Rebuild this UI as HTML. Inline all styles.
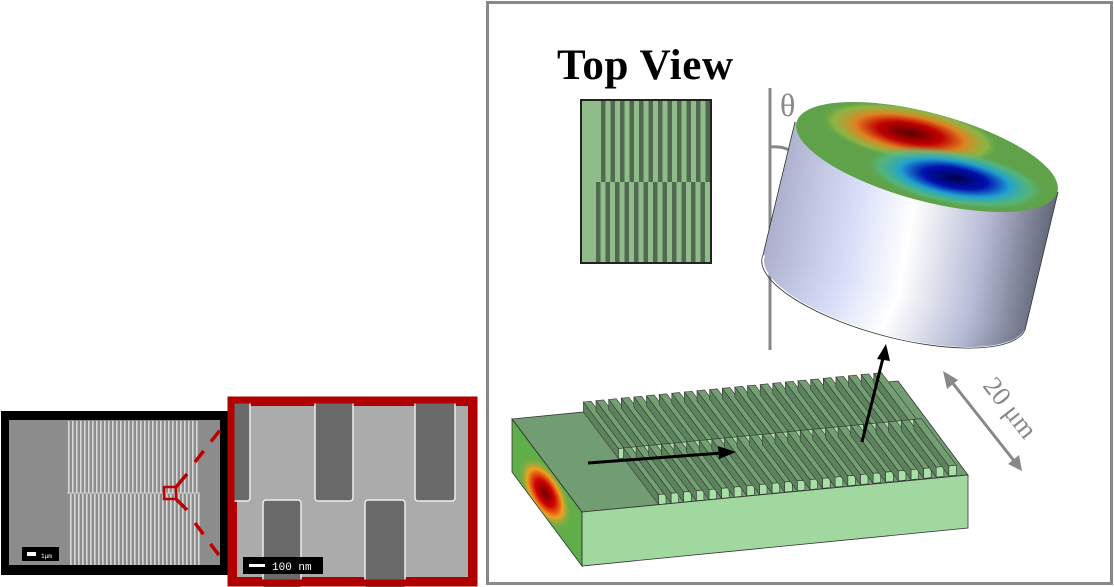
<!DOCTYPE html>
<html><head><meta charset="utf-8"><style>
html,body{margin:0;padding:0;background:#fff;width:1114px;height:587px;overflow:hidden}
</style></head><body>
<svg id="s" width="1114" height="587" viewBox="0 0 1114 587" xmlns="http://www.w3.org/2000/svg">
<defs>
<linearGradient id="cyl" gradientUnits="userSpaceOnUse" x1="763" y1="200" x2="1058" y2="250">
<stop offset="0" stop-color="#a6a9c6"/><stop offset="0.3" stop-color="#d6dcf8"/><stop offset="0.5" stop-color="#ffffff"/><stop offset="0.75" stop-color="#b6bad6"/><stop offset="1" stop-color="#555a6a"/></linearGradient>
<radialGradient id="red" cx="0.5" cy="0.5" r="0.5"><stop offset="0" stop-color="#5a0000"/><stop offset="0.35" stop-color="#c00000"/><stop offset="0.6" stop-color="#e08020"/><stop offset="0.85" stop-color="#a8c040" stop-opacity="0.6"/><stop offset="1" stop-color="#5fa24a" stop-opacity="0"/></radialGradient>
<radialGradient id="blue" cx="0.5" cy="0.5" r="0.5"><stop offset="0" stop-color="#00004a"/><stop offset="0.35" stop-color="#0010b0"/><stop offset="0.6" stop-color="#20a0d0"/><stop offset="0.85" stop-color="#50c090" stop-opacity="0.6"/><stop offset="1" stop-color="#5fa24a" stop-opacity="0"/></radialGradient>
<radialGradient id="side" cx="0.5" cy="0.5" r="0.5"><stop offset="0" stop-color="#700000"/><stop offset="0.35" stop-color="#d00000"/><stop offset="0.65" stop-color="#f0a020"/><stop offset="1" stop-color="#5fb04a" stop-opacity="0"/></radialGradient>
<clipPath id="topc"><ellipse cx="927" cy="157" rx="135" ry="44" transform="rotate(15 927 157)"/></clipPath>
<clipPath id="leftc"><polygon points="512,419 582,512 582,566 512,472"/></clipPath>
</defs>
<!-- SEM left -->
<rect x="1" y="411" width="227" height="164" fill="#000"/>
<rect x="9" y="420" width="211" height="145" fill="#8c8c8c"/>
<g id="sem"></g>
<rect x="22" y="547" width="37" height="14" fill="#000"/>
<rect x="27" y="552" width="9" height="4" fill="#fff"/>
<text x="41" y="558" font-family="Liberation Mono,monospace" font-size="6" fill="#fff">1μm</text>
<rect x="164" y="487" width="12" height="12" fill="none" stroke="#c00000" stroke-width="2.5"/>
<g stroke="#c00000" stroke-width="3.5" fill="none">
<line x1="176" y1="487" x2="187" y2="474"/><line x1="176" y1="499" x2="187" y2="510"/>
<line x1="195" y1="462" x2="224" y2="425" stroke-dasharray="14,12"/>
<line x1="195" y1="523" x2="224" y2="562" stroke-dasharray="14,12"/>
</g>
<!-- SEM right -->
<rect x="231" y="400" width="243" height="183" fill="#b00000"/>
<rect x="237" y="406" width="231" height="171" fill="#ababab"/>
<g fill="#6a6a6a" stroke="#eee" stroke-width="1.5">
<rect x="230" y="400" width="20" height="101" rx="3"/>
<rect x="315" y="400" width="38" height="101" rx="3"/>
<rect x="415" y="400" width="40" height="101" rx="3"/>
<rect x="263" y="500" width="38" height="90" rx="3"/>
<rect x="365" y="500" width="40" height="90" rx="3"/>
</g>
<rect x="231" y="400" width="243" height="183" fill="none" stroke="#b00000" stroke-width="7"/>
<rect x="243" y="557" width="80" height="17" fill="#000"/>
<rect x="249" y="564" width="16" height="3" fill="#fff"/>
<text x="272" y="570" font-family="Liberation Mono,monospace" font-size="11" fill="#fff">100 nm</text>
<!-- right panel -->
<rect x="487.5" y="2.5" width="624" height="581" fill="#fff" stroke="#888" stroke-width="3"/>
<text x="557" y="79" font-family="Liberation Serif,serif" font-weight="bold" font-size="43" fill="#000" textLength="176">Top View</text>
<rect x="581" y="100" width="130" height="163" fill="#8fbc8a" stroke="#222" stroke-width="2"/>
<g id="tv"></g>
<rect x="581" y="100" width="130" height="163" fill="none" stroke="#222" stroke-width="2"/>
<line x1="770" y1="88" x2="770" y2="350" stroke="#888" stroke-width="3"/>
<text x="780" y="116" font-family="Liberation Serif,serif" font-size="32" fill="#888">θ</text>
<path d="M770,147 Q790,145 800,160" fill="none" stroke="#888" stroke-width="3"/>
<!-- cylinder -->
<ellipse cx="895" cy="292" rx="135" ry="44" transform="rotate(15 895 292)" fill="url(#cyl)"/>
<path d="M795,122 L763,255 L1025,330 L1058,192 Z" fill="url(#cyl)"/>
<path d="M795,122 L763,255 A135,44 15 0 0 1025,330 L1058,192" fill="none" stroke="#333" stroke-width="0.8"/>
<ellipse cx="927" cy="157" rx="135" ry="44" transform="rotate(15 927 157)" fill="#5fa24a"/>
<g clip-path="url(#topc)">
<ellipse cx="910" cy="133" rx="92" ry="28" transform="rotate(10 910 133)" fill="url(#red)"/>
<ellipse cx="955" cy="178" rx="92" ry="28" transform="rotate(10 955 178)" fill="url(#blue)"/>
</g>
<!-- slab -->
<polygon points="512,419 582,512 582,566 512,472" fill="#5fae4a"/>
<g clip-path="url(#leftc)"><ellipse cx="545" cy="493" rx="20" ry="42" transform="rotate(-30 545 493)" fill="url(#side)"/></g>
<polygon points="512,419 898,381 968,475 582,512" fill="#729c72" stroke="#333" stroke-width="0.8"/>
<polygon points="582,512 968,475 968,528 582,566" fill="#a0d8a0" stroke="#333" stroke-width="0.8"/>
<polygon points="512,419 582,512 582,566 512,472" fill="none" stroke="#333" stroke-width="0.8"/>
<g id="gr"></g>
<!-- arrows -->
<g stroke="#000" stroke-width="3" fill="#000">
<line x1="588" y1="463" x2="722" y2="453"/>
<polygon points="736,452 718,446 719,459" stroke="none"/>
<line x1="862" y1="442" x2="883" y2="358"/>
<polygon points="886,344 877,359 890,361" stroke="none"/>
</g>
<g stroke="#888" stroke-width="3" fill="#888">
<line x1="951" y1="381" x2="1015" y2="462"/>
<polygon points="943,371 947,389 958,380" stroke="none"/>
<polygon points="1022,471 1008,464 1019,455" stroke="none"/>
</g>
<text x="0" y="0" transform="translate(982,386) rotate(52)" font-family="Liberation Serif,serif" font-size="27" fill="#888">20 μm</text>
</svg>
<script>
var NS="http://www.w3.org/2000/svg";
function add(g,tag,a){var e=document.createElementNS(NS,tag);for(var k in a)e.setAttribute(k,a[k]);document.getElementById(g).appendChild(e);}
for(var x=68;x<200;x+=4){add("sem","rect",{x:x,y:421,width:1.6,height:72,fill:"#d8d8d8"});add("sem","rect",{x:x+2,y:494,width:1.6,height:71,fill:"#d8d8d8"});}
add("sem","line",{x1:67,y1:493,x2:200,y2:493,stroke:"#ddd","stroke-width":1});
for(var x=601;x<709;x+=9.5){add("tv","rect",{x:x,y:100,width:4.5,height:82,fill:"#4f6a4f"});}
for(var x=596;x<709;x+=9.5){add("tv","rect",{x:x,y:182,width:4.5,height:81,fill:"#4f6a4f"});}
var A=[512,419],B=[898,381],D=[582,512];
function P(s,t,h){return [A[0]+s*(B[0]-A[0])+t*(D[0]-A[0]),A[1]+s*(B[1]-A[1])+t*(D[1]-A[1])-(h||0)];}
function pts(a){return a.map(function(p){return p[0].toFixed(1)+","+p[1].toFixed(1)}).join(" ");}
var s0=0.185,s1=0.97,N=24,per=(s1-s0)/N,w=per*0.6,H=10;
function half(t0,t1,off){
 for(var i=0;i<N;i++){var a=s0+i*per+off,b=a+w;if(b>1)continue;
  add("gr","polygon",{points:pts([P(a,t1,0),P(b,t1,0),P(b,t1,H),P(a,t1,H)]),fill:"#a8e0a8",stroke:"#333","stroke-width":0.6});
  add("gr","polygon",{points:pts([P(a,t0,0),P(a,t1,0),P(a,t1,H),P(a,t0,H)]),fill:"#5c845c",stroke:"#333","stroke-width":0.6});
  add("gr","polygon",{points:pts([P(a,t0,H),P(b,t0,H),P(b,t1,H),P(a,t1,H)]),fill:"#739f72",stroke:"#333","stroke-width":0.6});}
}
half(0,0.5,0);half(0.5,1,per*0.4);
</script>
</body></html>
